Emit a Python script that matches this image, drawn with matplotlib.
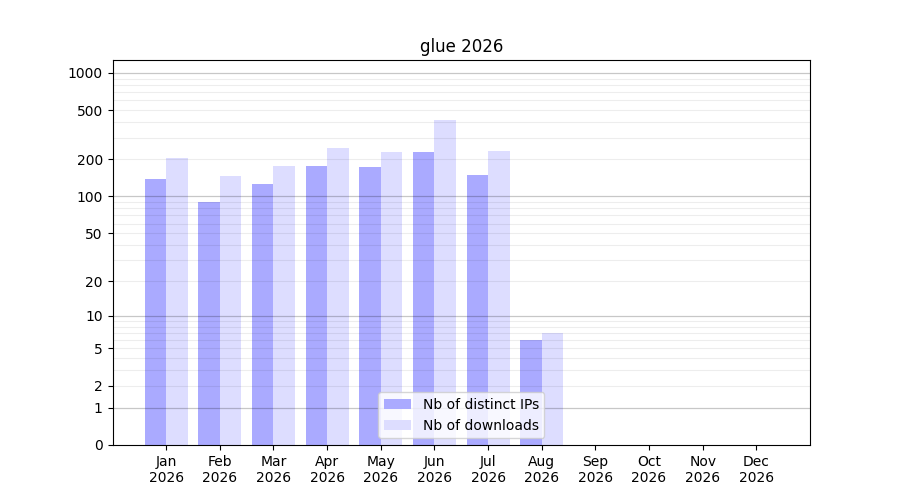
import numpy as np
import matplotlib
matplotlib.use('Agg')
import matplotlib.pyplot as plt
from matplotlib.ticker import NullLocator

# monthly stats for the package
months = ['Jan', 'Feb', 'Mar', 'Apr', 'May', 'Jun', 'Jul', 'Aug', 'Sep', 'Oct', 'Nov', 'Dec']
year = '2026'
distinct_ips = [139, 90, 126, 177, 174, 230, 149, 6, 0, 0, 0, 0]
downloads = [206, 147, 177, 247, 230, 417, 234, 7, 0, 0, 0, 0]

ytick_vals = [0, 1, 2, 5, 10, 20, 50, 100, 200, 500, 1000]

fig, ax = plt.subplots(figsize=(9, 5), dpi=100)

# log(1+x) so that zero months still fit on the axis
ax.set_yscale('function', functions=(lambda v: np.log10(1 + np.maximum(v, 0)),
                                     lambda v: 10 ** v - 1))

x = np.arange(len(months))
ax.bar(x, distinct_ips, width=-0.4, align='edge', color='#aaaaff', label='Nb of distinct IPs')
ax.bar(x, downloads, width=0.4, align='edge', color='#ddddff', label='Nb of downloads')

# grid on top of the bars, dark for decades, light for the rest
for dec in [1, 10, 100]:
    for m in range(2, 10):
        ax.axhline(dec * m, color='k', alpha=0.07, lw=0.8, zorder=3)
for dec in [1, 10, 100, 1000]:
    ax.axhline(dec, color='k', alpha=0.22, lw=0.9, zorder=3)

ax.set_ylim(0, 1270)
ax.set_yticks(ytick_vals)
ax.set_yticklabels([str(v) for v in ytick_vals])
ax.yaxis.set_minor_locator(NullLocator())
ax.tick_params(which='minor', length=0)

ax.set_xlim(-1, 12)
ax.set_xticks(x)
ax.set_xticklabels([m + '\n' + year for m in months])

ax.set_title('glue 2026')
ax.legend(loc='lower center')

plt.savefig('out.png', dpi=100)
